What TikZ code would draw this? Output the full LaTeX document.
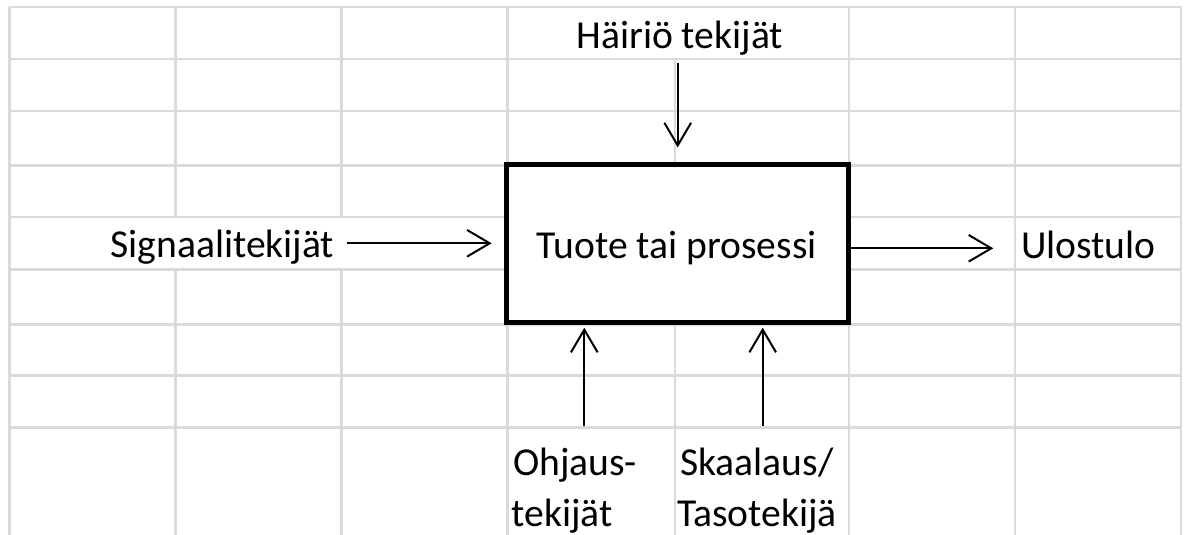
\documentclass[tikz,border=0pt]{standalone}
\usepackage{fontspec}
\setmainfont{Carlito}
\usetikzlibrary{arrows.meta}
\definecolor{gridgray}{RGB}{217,218,221}
\tikzset{
  gridline/.style={draw=gridgray, line width=1.8pt},
  lbl/.style={inner sep=0pt, font=\fontsize{29.7}{38.8}\selectfont},
  procbox/.style={draw=black, fill=white, line width=3.8pt, inner sep=0pt},
  arr/.style={draw=black, line width=1.5pt, -{Straight Barb[length=17pt,width=20pt]}}
}
\begin{document}
\begin{tikzpicture}[x=0.75pt, y=-0.75pt]
\useasboundingbox (0,0) rectangle (1186,535);
% horizontal grid lines
\foreach \y in {7.3,59.3,111.3,165.3,216.7,269.3,324.3,375.3,427.3}
  \draw[gridline] (8.6,\y) -- (1182,\y);
% vertical grid lines
\draw[gridline] (9.5,7.3) -- (9.5,535);
\draw[gridline] (175.5,7.3) -- (175.5,216.7);
\draw[gridline] (175.5,269.3) -- (175.5,535);
\draw[gridline] (341.5,7.3) -- (341.5,216.7);
\draw[gridline] (341.5,269.3) -- (341.5,535);
\draw[gridline] (507.5,7.3) -- (507.5,535);
\draw[gridline] (675,59.3) -- (675,535);
\draw[gridline] (849,7.3) -- (849,535);
\draw[gridline] (1015,7.3) -- (1015,535);
\draw[gridline] (1181,7.3) -- (1181,535);
% process box
\node[procbox, minimum width=342*0.75pt, minimum height=158*0.75pt] (box) at (677.5,243.5) {};
\node[lbl, anchor=base] (proc) at (676.7,258.3) {Tuote tai prosessi};
% labels
\node[lbl, anchor=base] (hairio) at (679.7,48.3) {Häiriö tekijät};
\node[lbl, anchor=base east] (sig) at (334.5,257.7) {Signaalitekijät};
\node[lbl, anchor=base west] (ulos) at (1021,258.3) {Ulostulo};
\node[lbl, anchor=base west] (ohj1) at (513,475) {Ohjaus-};
\node[lbl, anchor=base west] (ohj2) at (511.5,526.7) {tekijät};
\node[lbl, anchor=base west] (ska1) at (680,475) {Skaalaus/};
\node[lbl, anchor=base west] (ska2) at (677,526.7) {Tasotekijä};
% connectors
\coordinate (topstart) at (677.7,63);
\coordinate (sigend) at (491.7,243.3);
\coordinate (sigstart) at (346.7,243.3);
\coordinate (outend) at (993.3,248.3);
\coordinate (c1) at (584.3,425.5);
\coordinate (c2) at (762.7,425.5);
\draw[arr, shorten >=10.9pt] (topstart) -- (topstart |- box.north);
\draw[arr] (sigstart) -- (sigend);
\draw[arr] (outend -| box.east) -- (outend);
\draw[arr, shorten >=2pt] (c1) -- (c1 |- box.south);
\draw[arr, shorten >=2pt] (c2) -- (c2 |- box.south);
\end{tikzpicture}
\end{document}
